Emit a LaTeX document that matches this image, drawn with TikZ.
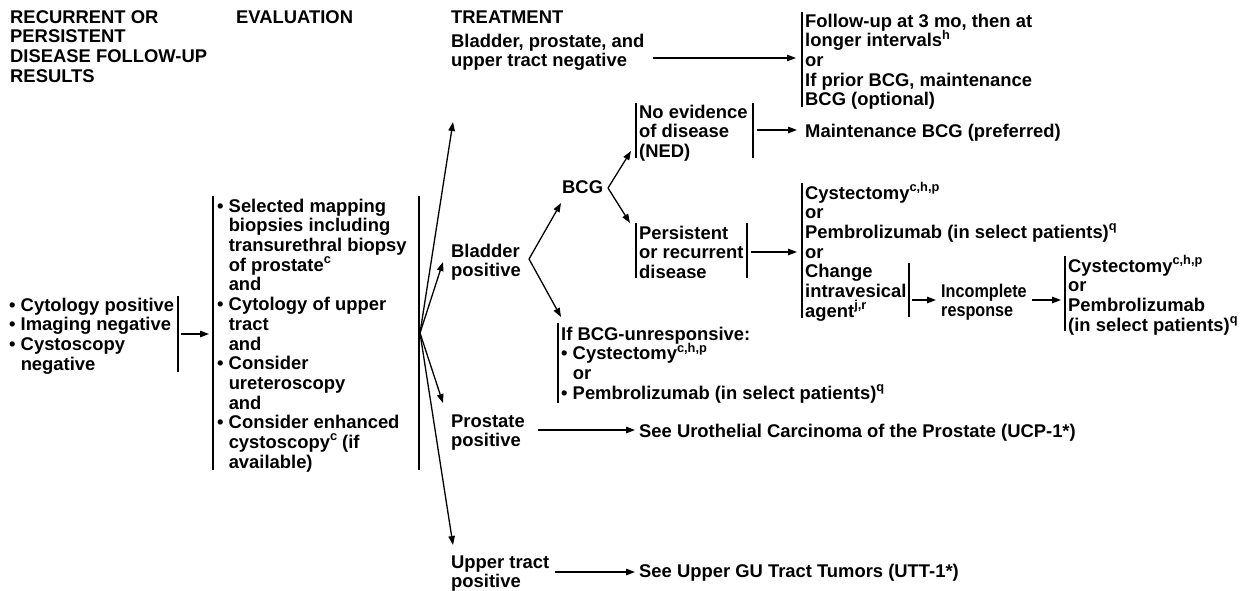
\documentclass[tikz,border=0pt]{standalone}
\usepackage{fontspec}
\setmainfont{Liberation Sans}
\newfontfamily\condfont[FakeStretch=0.88]{Liberation Sans}
\usetikzlibrary{arrows.meta}
\newcommand\spr[1]{\raisebox{0.42em}[0pt][0pt]{\fontsize{12.8}{12}\selectfont #1}}
\newcommand\bul{\textbullet\ }
\newcommand\nob{\hphantom{\textbullet\ }}
\begin{document}
\begin{tikzpicture}[x=1pt,y=-1pt,
  txt/.style={inner sep=0pt, align=left, anchor=north west,
    font=\bfseries\fontsize{18.4}{19.7}\selectfont},
  cond/.style={font=\condfont\bfseries\fontsize{18.4}{19.7}\selectfont},
  bar/.style={line width=1.4pt},
  arr/.style={line width=1.3pt, -{Triangle[length=9pt,width=6.5pt]}}]
\useasboundingbox (0,0) rectangle (1256,590);
% struts are 0.7*19.7 = 13.79pt high: node top = first baseline - 13.79
% headers
\node[txt] (h1) at (10,9.2) {\strut RECURRENT OR\\PERSISTENT\\DISEASE FOLLOW-UP\\RESULTS};
\node[txt] (h2) at (236,9.2) {\strut EVALUATION};
\node[txt] (h3) at (451,9.2) {\strut TREATMENT};
% left box
\node[txt] (res) at (9,297.2) {\strut\bul Cytology positive\\\bul Imaging negative\\\bul Cystoscopy\\\nob negative};
\draw[bar] (178,296) -- (178,372);
\coordinate (resout) at (181,334);
\coordinate (evalin) at (209,334);
\draw[arr] (resout) -- (evalin);
% evaluation
\node[txt] (eval) at (217,198.2) {\strut\bul Selected mapping\\\nob biopsies including\\\nob transurethral biopsy\\\nob of prostate\spr{c}\\\nob and\\\bul Cytology of upper\\\nob tract\\\nob and\\\bul Consider\\\nob ureteroscopy\\\nob and\\\bul Consider enhanced\\\nob cystoscopy\spr{c} (if\\\nob available)};
\draw[bar] (213,196) -- (213,470);
\draw[bar] (419,196) -- (419,470);
\coordinate (fan) at (420,333);
\coordinate (tneg) at (453,122);
\coordinate (tbp) at (443,262);
\coordinate (tpp) at (443,403);
\coordinate (tup) at (453,545);
\draw[arr] (fan) -- (tneg);
\draw[arr] (fan) -- (tbp);
\draw[arr] (fan) -- (tpp);
\draw[arr] (fan) -- (tup);
% negative branch
\node[txt] (neg) at (451,33.2) {\strut Bladder, prostate, and\\upper tract negative};
\coordinate (negout) at (653,58);
\coordinate (fuin) at (796,58);
\draw[arr] (negout) -- (fuin);
\node[txt] (fu) at (805,13.2) {\strut Follow-up at 3 mo, then at\\longer intervals\spr{h}\\or\\If prior BCG, maintenance\\BCG (optional)};
\draw[bar] (802,12) -- (802,107);
% bladder positive
\node[txt] (bp) at (451,243.2) {\strut Bladder\\positive};
\coordinate (bpv) at (529,259);
\coordinate (tbcg) at (561,203);
\coordinate (tunr) at (561,317);
\draw[arr] (bpv) -- (tbcg);
\draw[arr] (bpv) -- (tunr);
\node[txt] (bcg) at (562,179.2) {\strut BCG};
\coordinate (bcgv) at (608,188);
\coordinate (tned) at (631,151);
\coordinate (tper) at (630,223);
\draw[arr] (bcgv) -- (tned);
\draw[arr] (bcgv) -- (tper);
% NED
\node[txt] (ned) at (639,104.2) {\strut No evidence\\of disease\\(NED)};
\draw[bar] (636,103) -- (636,158);
\draw[bar] (753,103) -- (753,158);
\coordinate (nedout) at (757,130);
\coordinate (mntin) at (797,130);
\draw[arr] (nedout) -- (mntin);
\node[txt] (mnt) at (805,123.2) {\strut Maintenance BCG (preferred)};
% persistent
\node[txt] (per) at (639,225.2) {\strut Persistent\\or recurrent\\disease};
\draw[bar] (636,223) -- (636,278);
\draw[bar] (747,223) -- (747,278);
\coordinate (perout) at (751,252);
\coordinate (optin) at (797,252);
\draw[arr] (perout) -- (optin);
\node[txt] (opt) at (805,185.2) {\strut Cystectomy\spr{c,h,p}\\or\\Pembrolizumab (in select patients)\spr{q}\\or\\Change\\intravesical\\agent\spr{j,r}};
\draw[bar] (802,183) -- (802,318);
\draw[bar] (909,263) -- (909,317);
\coordinate (optout) at (912,300);
\coordinate (incin) at (936,300);
\draw[arr] (optout) -- (incin);
\node[txt, cond] (inc) at (941,283.2) {\strut Incomplete\\response};
\coordinate (incout) at (1032,300);
\coordinate (finin) at (1061,300);
\draw[arr] (incout) -- (finin);
\node[txt] (fin) at (1068,258.2) {\strut Cystectomy\spr{c,h,p}\\or\\Pembrolizumab\\(in select patients)\spr{q}};
\draw[bar] (1065,256) -- (1065,331);
% BCG unresponsive
\node[txt] (unr) at (561,326.2) {\strut If BCG-unresponsive:\\\bul Cystectomy\spr{c,h,p}\\\nob or\\\bul Pembrolizumab (in select patients)\spr{q}};
\draw[bar] (558,323) -- (558,403);
% prostate
\node[txt] (pp) at (451,413.2) {\strut Prostate\\positive};
\coordinate (ppout) at (538,430);
\coordinate (ucpin) at (635,430);
\draw[arr] (ppout) -- (ucpin);
\node[txt] (ucp) at (639,423.2) {\strut See Urothelial Carcinoma of the Prostate (UCP-1*)};
% upper tract
\node[txt] (up) at (451,554.2) {\strut Upper tract\\positive};
\coordinate (upout) at (555,572);
\coordinate (uttin) at (635,572);
\draw[arr] (upout) -- (uttin);
\node[txt] (utt) at (639,563.2) {\strut See Upper GU Tract Tumors (UTT-1*)};
\end{tikzpicture}
\end{document}
